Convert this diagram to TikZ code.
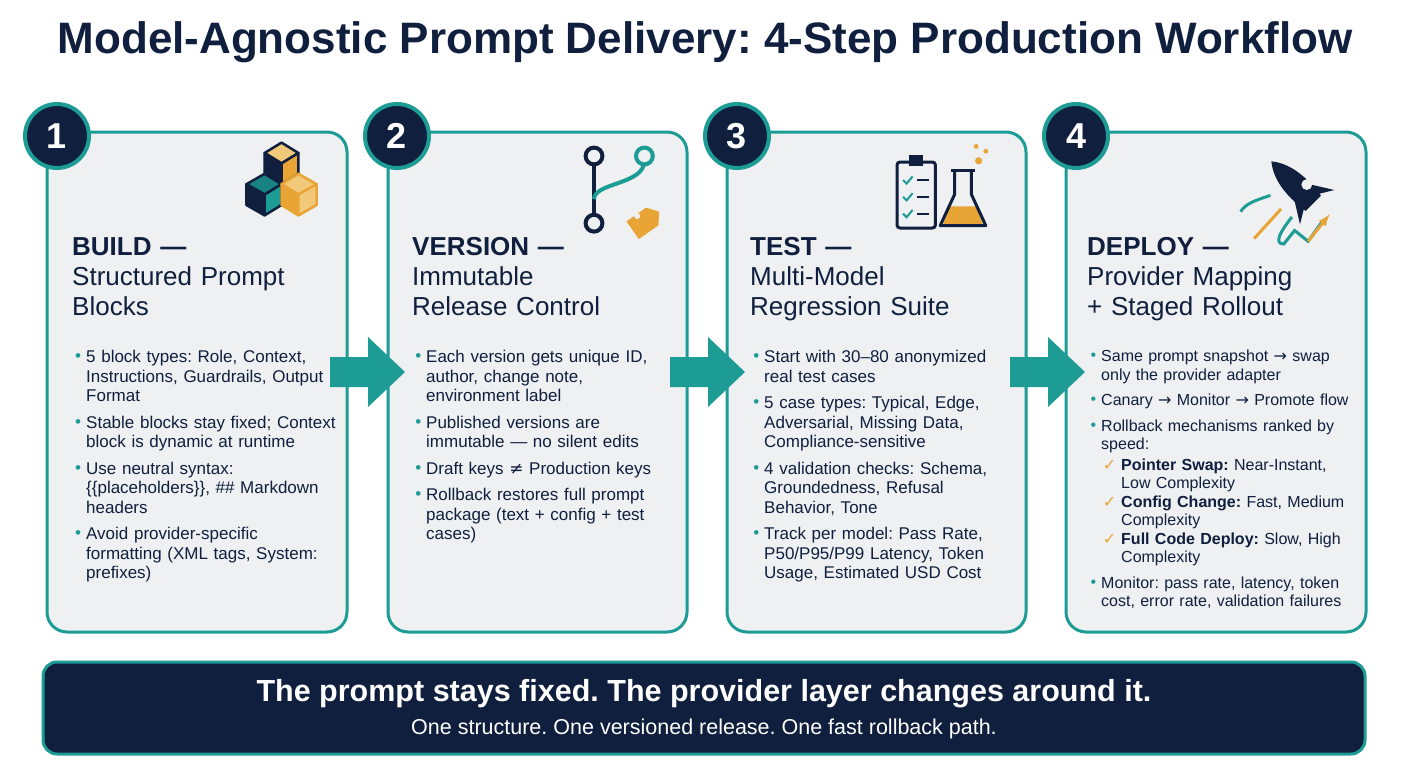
\documentclass[tikz,border=0pt]{standalone}
\usepackage{fontspec}
\setmainfont{Liberation Sans}
\newfontfamily\symfont{DejaVu Sans}
\usepackage{enumitem}
\definecolor{navy}{HTML}{0F1F3D}
\definecolor{tealc}{HTML}{1C9C95}
\definecolor{cardbg}{HTML}{EEF0F2}
\definecolor{gold}{HTML}{E8A535}
\definecolor{goldlt}{HTML}{F2C97A}
\newcommand{\tick}{{\symfont\textcolor{gold}{✓}}}
\newcommand{\arr}{{\symfont →}}
\setlist[itemize]{leftmargin=14pt,itemsep=7pt,topsep=0pt,parsep=0pt,label={\textcolor{tealc}{\raisebox{1pt}{\textbullet}}}}
\frenchspacing
\begin{document}
\begin{tikzpicture}[x=1pt,y=-1pt,
    card/.style={draw=tealc,line width=3pt,fill=cardbg,rounded corners=20pt},
    num/.style={circle,draw=tealc,line width=4pt,fill=navy,minimum size=64pt,text=white,font=\fontsize{36}{36}\bfseries\selectfont},
    head/.style={anchor=north west,text width=275pt,align=left,inner sep=0pt,text=navy,font=\fontsize{26}{30}\selectfont},
    body/.style={anchor=north west,text width=266pt,inner sep=0pt,text=navy,font=\fontsize{17}{19.5}\selectfont},
    flow/.style={fill=tealc}]
\useasboundingbox (0,0) rectangle (1408,768);

% title
\node (title) at (705,42) {\fontsize{44}{44}\bfseries\selectfont\textcolor{navy}{Model-Agnostic Prompt Delivery: 4-Step Production Workflow}};

% cards
\draw[card] (47,132) rectangle (347,632);
\draw[card] (388,132) rectangle (687,632);
\draw[card] (727,132) rectangle (1026,632);
\draw[card] (1066,132) rectangle (1366,632);

% arrows between cards
\foreach \ax in {330,670,1010}
  \fill[flow] (\ax,357) -- (\ax+38,357) -- (\ax+38,337) -- (\ax+75,372) -- (\ax+38,407) -- (\ax+38,387) -- (\ax,387) -- cycle;

% step numbers
\node[num] (n1) at (57,136) {1};
\node[num] (n2) at (397,136) {2};
\node[num] (n3) at (737,136) {3};
\node[num] (n4) at (1076,136) {4};

% icons
\begin{scope}[shift={(275,192)},scale=1.3,line width=2.5pt,draw=navy,line join=round]
  \filldraw[fill=goldlt] (-8,-30) -- (5,-38) -- (18,-30) -- (5,-22) -- cycle;
  \filldraw[fill=navy] (-8,-30) -- (5,-22) -- (5,-6) -- (-8,-14) -- cycle;
  \filldraw[fill=gold] (5,-22) -- (18,-30) -- (18,-14) -- (5,-6) -- cycle;
  \filldraw[fill=tealc!80!navy] (-22,-6) -- (-8,-14) -- (5,-6) -- (-8,2) -- cycle;
  \filldraw[fill=navy] (-22,-6) -- (-8,2) -- (-8,18) -- (-22,10) -- cycle;
  \filldraw[fill=tealc] (-8,2) -- (5,-6) -- (5,10) -- (-8,18) -- cycle;
  \filldraw[fill=goldlt,draw=gold] (5,-6) -- (18,-14) -- (32,-6) -- (18,2) -- cycle;
  \filldraw[fill=gold,draw=gold] (5,-6) -- (18,2) -- (18,18) -- (5,10) -- cycle;
  \filldraw[fill=goldlt,draw=gold] (18,2) -- (32,-6) -- (32,10) -- (18,18) -- cycle;
\end{scope}
\begin{scope}[shift={(618,192)},scale=1.2,line width=4pt]
  \draw[navy] (-20,-26) -- (-20,22);
  \draw[tealc] (-20,6) .. controls (-20,-8) and (22,-6) .. (22,-26);
  \filldraw[navy,fill=cardbg] (-20,-30) circle (7pt) (-20,26) circle (7pt);
  \filldraw[tealc,fill=cardbg] (22,-30) circle (7pt);
  \fill[gold,rotate around={35:(22,25)}] (10,16) -- (30,16) -- (37,25) -- (30,34) -- (10,34) -- cycle;
  \fill[cardbg] (16,20) circle (2.5pt);
\end{scope}
\begin{scope}[shift={(945,192)},scale=1.2,line width=3pt]
  \draw[navy,rounded corners=3pt] (-40,-25) rectangle (-8,30);
  \fill[navy] (-30,-31) rectangle (-18,-22);
  \foreach \yy in {-10,4,18} {
    \draw[tealc,line width=2pt] (-35,\yy) -- (-32,\yy+3) -- (-27,\yy-3);
    \draw[navy,line width=2pt] (-23,\yy) -- (-13,\yy);
  }
  \fill[gold] (4,12) -- (26,12) -- (32,28) -- (-2,28) -- cycle;
  \draw[navy,line join=round] (8,-18) -- (8,2) -- (-4,28) -- (34,28) -- (22,2) -- (22,-18);
  \draw[navy] (5,-18) -- (25,-18);
  \fill[gold] (28,-26) circle (3pt) (34,-34) circle (2pt) (26,-38) circle (2pt);
\end{scope}
\begin{scope}[shift={(1300,190)},scale=1.35]
  \fill[navy,rotate=45] (0,-30) .. controls (10,-18) and (10,0) .. (8,14) -- (-8,14) .. controls (-10,0) and (-10,-18) .. (0,-30) -- cycle;
  \fill[navy,rotate=45] (-8,2) -- (-18,18) -- (-8,12) -- cycle (8,2) -- (18,18) -- (8,12) -- cycle;
  \fill[cardbg] (5,-4) circle (4pt);
  \draw[gold,line width=3pt] (-14,14) -- (-34,36);
  \draw[tealc,line width=3pt] (-22,4) .. controls (-34,8) and (-40,10) .. (-44,16);
  \draw[tealc,line width=3pt] (-6,20) .. controls (-14,30) and (-20,40) .. (-12,40) -- (-4,30) -- (6,38) -- (16,24);
  \draw[gold,line width=3pt,-latex] (6,38) -- (22,18);
\end{scope}

% headings
\node[head] (h1) at (72,237) {\textbf{BUILD —}\\Structured Prompt\\Blocks};
\node[head] (h2) at (412,237) {\textbf{VERSION —}\\Immutable\\Release Control};
\node[head] (h3) at (750,237) {\textbf{TEST —}\\Multi-Model\\Regression Suite};
\node[head] (h4) at (1087,237) {\textbf{DEPLOY —}\\Provider Mapping\\+ Staged Rollout};

% bullets
\node[body] (b1) at (72,343) {\begin{itemize}
  \item 5 block types: Role, Context, Instructions, Guardrails, Output Format
  \item Stable blocks stay fixed; Context block is dynamic at runtime
  \item Use neutral syntax: \{\{placeholders\}\}, \#\# Markdown headers
  \item Avoid provider-specific\\formatting (XML tags, System:\\prefixes)
\end{itemize}};
\node[body] (b2) at (412,343) {\begin{itemize}
  \item Each version gets unique ID, author, change note, environment label
  \item Published versions are immutable — no silent edits
  \item Draft keys {\symfont ≠} Production keys
  \item Rollback restores full prompt package (text + config + test cases)
\end{itemize}};
\node[body] (b3) at (750,343) {\begin{itemize}
  \item Start with 30–80 anonymized real test cases
  \item 5 case types: Typical, Edge, Adversarial, Missing Data, Compliance-sensitive
  \item 4 validation checks: Schema, Groundedness, Refusal Behavior, Tone
  \item Track per model: Pass Rate, P50/P95/P99 Latency, Token Usage, Estimated USD Cost
\end{itemize}};
\node[body,font=\fontsize{16}{18.5}\selectfont] (b4) at (1087,343) {\begin{itemize}
  \item Same prompt snapshot \arr\ swap only the provider adapter
  \item Canary \arr\ Monitor \arr\ Promote flow
  \item Rollback mechanisms ranked by speed:\par
    \begin{itemize}[leftmargin=20pt,itemsep=0pt,topsep=0pt,label=\tick]
      \item \textbf{Pointer Swap:} Near-Instant, Low Complexity
      \item \textbf{Config Change:} Fast, Medium Complexity
      \item \textbf{Full Code Deploy:} Slow, High Complexity
    \end{itemize}
  \item Monitor: pass rate, latency, token cost, error rate, validation failures
\end{itemize}};

% banner
\node[draw=tealc,line width=3pt,fill=navy,rounded corners=14pt,minimum width=1322pt,minimum height=92pt] (banner) at (704,708) {};
\node[text=white,font=\fontsize{30.5}{30.5}\bfseries\selectfont] (msg) at (704,694) {The prompt stays fixed. The provider layer changes around it.};
\node[text=white,font=\fontsize{21.5}{21.5}\selectfont] (sub) at (704,729) {One structure. One versioned release. One fast rollback path.};
\end{tikzpicture}
\end{document}
